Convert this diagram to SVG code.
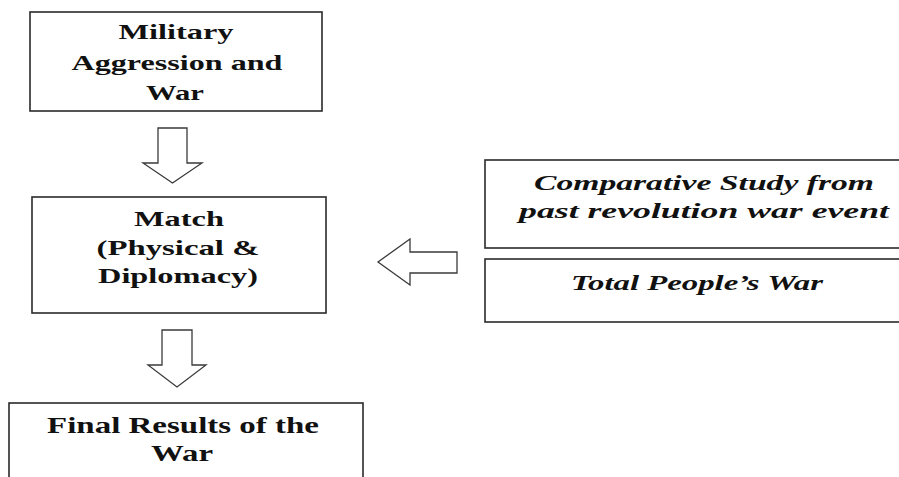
<svg xmlns="http://www.w3.org/2000/svg" width="899" height="477" viewBox="0 0 899 477">
<style>
.box{fill:#fff;stroke:#2a2a2a;stroke-width:1.6}
.arr{fill:#fff;stroke:#3a3a3a;stroke-width:1.3;stroke-linejoin:miter}
.b{font-family:"Liberation Serif","Times New Roman",serif;font-weight:bold;font-size:22px;fill:#111;text-anchor:middle}
.b23{font-size:23px}
.i{font-family:"Liberation Serif","Times New Roman",serif;font-weight:bold;font-style:italic;font-size:22px;fill:#111;text-anchor:middle}
</style>
<rect width="899" height="477" fill="#fff"/>
<g id="connectors">
<polygon class="arr" points="158,128 187,128 187,163 202,163 172.5,183 143,163 158,163"/>
<polygon class="arr" points="162,330 192,330 192,365 206,365 177,387 148,365 162,365"/>
<polygon class="arr" points="457,252 410,252 410,239 378,262 410,285 410,273 457,273"/>
</g>
<g id="military">
<rect class="box" x="30" y="12" width="292" height="99"/>
<text class="b" transform="translate(176,39) scale(1.46,1)" textLength="78.8" lengthAdjust="spacingAndGlyphs">Military</text>
<text class="b" transform="translate(177,70) scale(1.46,1)" textLength="144.5" lengthAdjust="spacingAndGlyphs">Aggression and</text>
<text class="b" transform="translate(175,100) scale(1.46,1)" textLength="39.7" lengthAdjust="spacingAndGlyphs">War</text>
</g>
<g id="match">
<rect class="box" x="32" y="197" width="294" height="116"/>
<text class="b" transform="translate(179,226) scale(1.46,1)" textLength="61.6" lengthAdjust="spacingAndGlyphs">Match</text>
<text class="b" transform="translate(178,255) scale(1.46,1)" textLength="111.6" lengthAdjust="spacingAndGlyphs">(Physical &amp;</text>
<text class="b" transform="translate(178,283) scale(1.46,1)" textLength="109.6" lengthAdjust="spacingAndGlyphs">Diplomacy)</text>
</g>
<g id="comparative">
<rect class="box" x="485" y="160" width="425" height="88"/>
<text class="i" transform="translate(704,190) scale(1.52,1)" textLength="223.7" lengthAdjust="spacingAndGlyphs">Comparative Study from</text>
<text class="i" transform="translate(704,218) scale(1.52,1)" textLength="243.4" lengthAdjust="spacingAndGlyphs">past revolution war event</text>
</g>
<g id="total">
<rect class="box" x="485" y="259" width="425" height="63"/>
<text class="i" transform="translate(697,290) scale(1.52,1)" textLength="165.8" lengthAdjust="spacingAndGlyphs">Total People’s War</text>
</g>
<g id="final">
<rect class="box" x="9" y="403" width="354" height="90"/>
<text class="b b23" transform="translate(183,433) scale(1.42,1)" textLength="191.5" lengthAdjust="spacingAndGlyphs">Final Results of the</text>
<text class="b b23" transform="translate(182,461) scale(1.42,1)" textLength="43.7" lengthAdjust="spacingAndGlyphs">War</text>
</g>
</svg>
